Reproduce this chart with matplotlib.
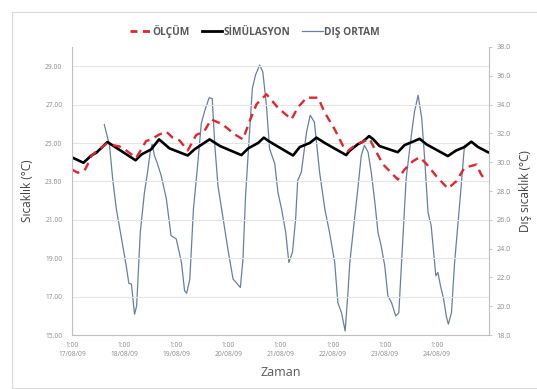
import matplotlib
matplotlib.use("Agg")
import matplotlib.pyplot as plt
from matplotlib.lines import Line2D
from matplotlib.patches import Rectangle

plt.rcParams['font.family'] = ['Open Sans', 'DejaVu Sans']

# time axis: days since 17/08/09 01:00
olcum_t = [0.00, 0.11, 0.24, 0.30, 0.37, 0.46, 0.66, 0.91, 1.01, 1.23, 1.33, 1.42,
           1.52, 1.68, 1.81, 1.93, 2.06, 2.22, 2.32, 2.38, 2.54, 2.67, 2.89, 3.12,
           3.28, 3.41, 3.54, 3.73, 3.95, 4.21, 4.33, 4.50, 4.72, 4.85, 5.04, 5.20,
           5.29, 5.45, 5.61, 5.71, 5.81, 5.97, 6.25, 6.38, 6.54, 6.67, 6.80, 6.99,
           7.21, 7.37, 7.53, 7.76, 7.85, 7.95]
olcum_v = [23.62, 23.45, 23.57, 23.88, 24.32, 24.55, 24.96, 24.82, 24.67, 24.23, 24.67, 25.10,
           25.19, 25.45, 25.59, 25.28, 25.14, 24.61, 25.10, 25.41, 25.62, 26.23, 25.97, 25.45,
           25.19, 26.15, 27.02, 27.54, 26.84, 26.23, 26.84, 27.36, 27.36, 26.58, 25.71, 24.84,
           24.58, 24.93, 25.10, 25.22, 24.67, 23.88, 23.10, 23.62, 24.05, 24.26, 23.91, 23.27,
           22.63, 23.00, 23.71, 23.88, 23.36, 23.00]

sim_t = [0.00, 0.22, 0.37, 0.47, 0.68, 0.85, 1.22, 1.33, 1.52, 1.67, 1.87, 2.22,
         2.35, 2.64, 2.84, 3.25, 3.38, 3.57, 3.68, 3.79, 4.24, 4.37, 4.56, 4.69,
         4.85, 5.26, 5.32, 5.48, 5.58, 5.70, 5.78, 5.90, 6.25, 6.38, 6.54, 6.67,
         6.80, 7.21, 7.37, 7.53, 7.66, 7.79, 7.98]
sim_v = [24.25, 23.97, 24.35, 24.50, 25.05, 24.75, 24.10, 24.40, 24.67, 25.19, 24.72, 24.35,
         24.67, 25.19, 24.84, 24.37, 24.72, 25.00, 25.28, 25.07, 24.35, 24.79, 25.00, 25.28,
         25.00, 24.37, 24.58, 24.93, 25.07, 25.36, 25.19, 24.84, 24.52, 24.89, 25.07, 25.22,
         24.93, 24.32, 24.61, 24.79, 25.07, 24.79, 24.52]

dis_t = [0.62, 0.72, 0.78, 0.85, 0.94, 1.04, 1.09, 1.14, 1.20, 1.24, 1.31, 1.39,
         1.45, 1.50, 1.54, 1.58, 1.63, 1.71, 1.81, 1.90, 2.00, 2.10, 2.16, 2.20,
         2.26, 2.33, 2.41, 2.48, 2.54, 2.63, 2.69, 2.74, 2.80, 2.89, 2.99, 3.09,
         3.15, 3.23, 3.28, 3.33, 3.39, 3.46, 3.52, 3.60, 3.66, 3.73, 3.79, 3.89,
         3.95, 4.02, 4.10, 4.16, 4.23, 4.29, 4.33, 4.40, 4.50, 4.57, 4.65, 4.75,
         4.85, 4.94, 5.04, 5.10, 5.17, 5.24, 5.29, 5.33, 5.42, 5.49, 5.55, 5.61,
         5.68, 5.74, 5.81, 5.87, 5.93, 6.00, 6.06, 6.13, 6.21, 6.27, 6.34, 6.41,
         6.51, 6.57, 6.64, 6.71, 6.77, 6.83, 6.89, 6.98, 7.02, 7.07, 7.13, 7.18,
         7.22, 7.28, 7.34, 7.44, 7.53]
dis_v = [32.61, 31.17, 28.85, 26.76, 24.90, 22.81, 21.60, 21.53, 19.44, 20.02, 25.13, 27.92,
         29.31, 30.70, 31.30, 30.47, 30.00, 29.08, 27.46, 24.90, 24.67, 23.04, 21.07, 20.90,
         21.88, 26.76, 29.78, 32.68, 33.49, 34.47, 34.42, 31.17, 28.38, 26.29, 23.97, 21.88,
         21.64, 21.30, 23.28, 27.69, 31.17, 35.12, 36.05, 36.75, 36.28, 33.96, 30.94, 29.90,
         27.92, 26.76, 25.13, 23.04, 23.74, 26.06, 28.73, 29.31, 32.10, 33.26, 32.79, 29.31,
         26.76, 25.13, 23.04, 20.25, 19.55, 18.28, 20.72, 23.04, 26.06, 28.38, 30.47, 31.17,
         30.70, 29.31, 27.22, 25.13, 24.20, 22.81, 20.72, 20.25, 19.32, 19.55, 24.20, 28.85,
         31.87, 33.49, 34.65, 33.03, 30.01, 26.52, 25.60, 22.11, 22.34, 21.41, 20.49, 19.32,
         18.75, 19.55, 23.04, 27.22, 31.17]

x_ticks = [0, 1, 2, 3, 4, 5, 6, 7]
x_labels = ["1:00\n17/08/09", "1:00\n18/08/09", "1:00\n19/08/09", "1:00\n20/08/09",
            "1:00\n21/08/09", "1:00\n22/08/09", "1:00\n23/08/09", "1:00\n24/08/09"]
left_ticks = [15, 17, 19, 21, 23, 25, 27, 29]
right_ticks = [18, 20, 22, 24, 26, 28, 30, 32, 34, 36, 38]

RED = '#e0262f'
BLUE = '#6880a0'
GRAY_TXT = '#8a8a8a'
AXIS_GRAY = '#bfbfbf'
GRID = '#e4e4e4'

fig = plt.figure(figsize=(5.37, 3.89), dpi=100)
fig.patches.append(Rectangle((12 / 537, 0.003), 1.0, 1 - 12 / 389 - 0.003,
                             transform=fig.transFigure, fill=False,
                             edgecolor='#d9d9d9', linewidth=0.8))

ax = fig.add_axes([72 / 537, 54 / 389, 417 / 537, 288 / 389])
ax2 = ax.twinx()
ax.set_zorder(ax2.get_zorder() + 1)
ax.patch.set_visible(False)

ax2.plot(dis_t, dis_v, color=BLUE, linewidth=0.9)
ax.plot(sim_t, sim_v, color='black', linewidth=1.9, solid_joinstyle='round')
ax.plot(olcum_t, olcum_v, color=RED, linewidth=1.7, dashes=(3.5, 2.4),
        dash_capstyle='butt')

ax.set_xlim(0, 8)
ax.set_ylim(15, 30)
ax2.set_ylim(18, 38)

ax.set_yticks(left_ticks)
ax.set_yticklabels([f"{v:.2f}" for v in left_ticks])
ax2.set_yticks(right_ticks)
ax2.set_yticklabels([f"{v:.1f}" for v in right_ticks])
ax.set_xticks(x_ticks)
ax.set_xticklabels(x_labels, linespacing=1.4)

ax.grid(axis='y', color=GRID, linewidth=0.8)
ax.set_axisbelow(True)

for a in (ax, ax2):
    for s in a.spines.values():
        s.set_visible(False)
ax.spines['left'].set_visible(True)
ax.spines['bottom'].set_visible(True)
ax2.spines['right'].set_visible(True)
ax.spines['left'].set_color(AXIS_GRAY)
ax.spines['bottom'].set_color(AXIS_GRAY)
ax2.spines['right'].set_color(AXIS_GRAY)

ax.tick_params(axis='y', length=0, pad=7, labelsize=4.8, labelcolor=GRAY_TXT)
ax.tick_params(axis='x', length=0, pad=5, labelsize=4.8, labelcolor=GRAY_TXT)
ax2.tick_params(axis='y', length=2.5, width=0.6, color=AXIS_GRAY, pad=3,
                labelsize=5.2, labelcolor=GRAY_TXT)

ax.set_ylabel("Sıcaklık (°C)", fontsize=8.5, color='#404040', labelpad=8)
ax2.set_ylabel("Dış sıcaklık (°C)", fontsize=8.5, color='#404040', labelpad=6)
ax.set_xlabel("Zaman", fontsize=9, color='#595959', labelpad=6)

handles = [Line2D([], [], color=RED, linewidth=2.0, dashes=(2.5, 2.0)),
           Line2D([], [], color='black', linewidth=2.0),
           Line2D([], [], color=BLUE, linewidth=0.9)]
fig.legend(handles, ["ÖLÇÜM", "SİMÜLASYON", "DIŞ ORTAM"],
           loc='center', bbox_to_anchor=(255 / 537, 1 - 31 / 389), ncol=3,
           frameon=False, handlelength=2.0, handletextpad=0.15, columnspacing=1.2,
           prop={'size': 7.3, 'weight': 'bold'}, labelcolor='#595959')

fig.savefig("out.png", dpi=100)
